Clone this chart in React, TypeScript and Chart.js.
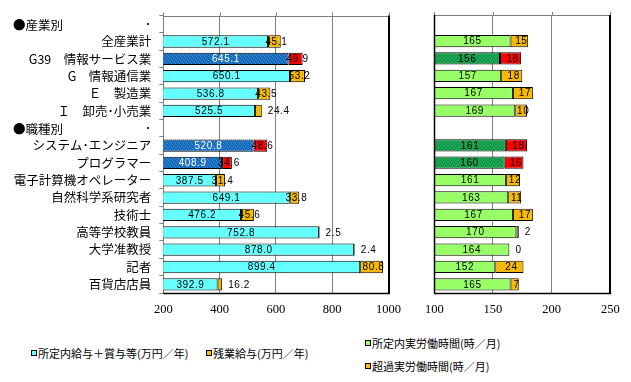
import React, { useEffect, useRef } from "react";
import { Chart, registerables } from "chart.js";

Chart.register(...registerables);

// ---------- data ----------
const categories = [
  "●産業別",
  "全産業計",
  "G39　情報サービス業",
  "G　情報通信業",
  "Ｅ　製造業",
  "Ｉ　卸売･小売業",
  "●職種別",
  "システム･エンジニア",
  "プログラマー",
  "電子計算機オペレーター",
  "自然科学系研究者",
  "技術士",
  "高等学校教員",
  "大学准教授",
  "記者",
  "百貨店店員",
];
const headerRows = [0, 6];
const highlightRows = [2, 7, 8];

const salaryBase = [null, 572.1, 645.1, 650.1, 536.8, 525.5, null, 520.8, 408.9, 387.5, 649.1, 476.2, 752.8, 878.0, 899.4, 392.9];
const salaryOvertime = [null, 45.1, 49.9, 53.2, 43.5, 24.4, null, 48.6, 34.6, 31.4, 33.8, 45.6, 2.5, 2.4, 80.8, 16.2];
const hoursBase = [null, 165, 156, 157, 167, 169, null, 161, 160, 161, 163, 167, 170, 164, 152, 165];
const hoursOvertime = [null, 15, 18, 18, 17, 10, null, 18, 16, 12, 11, 17, 2, 0, 24, 7];

const salaryTicks = [200, 400, 600, 800, 1000];
const hoursTicks = [100, 150, 200, 250];

const legendSalary = ["所定内給与＋賞与等(万円／年)", "残業給与(万円／年)"];
const legendHours = ["所定内実労働時間(時／月)", "超過実労働時間(時／月)"];

// ---------- helpers ----------
const JP = '"Noto Sans CJK JP", "Noto Sans", sans-serif';
const NUM = '"Liberation Sans", Arial, sans-serif';

function makePattern(base: string, dot: string) {
  const c = document.createElement("canvas");
  c.width = 4;
  c.height = 4;
  const g = c.getContext("2d")!;
  g.fillStyle = base;
  g.fillRect(0, 0, 4, 4);
  g.fillStyle = dot;
  g.fillRect(0, 0, 1, 1);
  g.fillRect(2, 1, 1, 1);
  g.fillRect(1, 2, 1, 1);
  g.fillRect(3, 3, 1, 1);
  return g.createPattern(c, "repeat")!;
}

function labelPlugin(kind: "left" | "right", decimals: number) {
  return {
    id: "valueLabels_" + kind,
    afterDatasetsDraw(chart: any) {
      const ctx = chart.ctx as CanvasRenderingContext2D;
      const area = chart.chartArea;
      ctx.save();
      ctx.font = "10px " + NUM;
      try {
        (ctx as any).letterSpacing = "0.6px";
      } catch (e) {}
      ctx.textBaseline = "middle";
      chart.data.datasets.forEach((ds: any, di: number) => {
        const meta = chart.getDatasetMeta(di);
        meta.data.forEach((el: any, i: number) => {
          const v = ds.data[i];
          if (v == null) return;
          const start = Math.max(Math.min(el.base, el.x), area.left);
          const end = Math.max(el.base, el.x);
          const txt = Number(v).toFixed(decimals);
          const y = el.y + 0.5;
          if (di === 0) {
            ctx.fillStyle = kind === "left" && highlightRows.includes(i) ? "#ffffff" : "#000000";
            ctx.textAlign = "center";
            ctx.fillText(txt, (start + end) / 2, y);
          } else {
            ctx.fillStyle = "#000000";
            const w = end - start;
            if (w >= 8) {
              ctx.textAlign = "center";
              ctx.fillText(txt, (start + end) / 2 + 2, y);
            } else {
              ctx.textAlign = "left";
              ctx.fillText(txt, end + 6, y);
            }
          }
        });
      });
      ctx.restore();
    },
  };
}

function framePlugin(kind: "left" | "right", ticks: number[]) {
  return {
    id: "frame_" + kind,
    afterDraw(chart: any) {
      const ctx = chart.ctx as CanvasRenderingContext2D;
      const a = chart.chartArea;
      const xs = chart.scales.x;
      ctx.save();
      // top gray line + tick marks
      ctx.strokeStyle = "#808080";
      ctx.lineWidth = 1;
      ctx.beginPath();
      ctx.moveTo(a.left, Math.round(a.top) + 0.5);
      ctx.lineTo(a.right, Math.round(a.top) + 0.5);
      ticks.forEach((t) => {
        const px = Math.round(xs.getPixelForValue(t)) + 0.5;
        ctx.moveTo(px, a.top - 3);
        ctx.lineTo(px, a.top);
      });
      ctx.stroke();
      // right black border
      ctx.strokeStyle = "#000000";
      ctx.lineWidth = 2;
      ctx.beginPath();
      ctx.moveTo(Math.round(a.right), a.top);
      ctx.lineTo(Math.round(a.right), a.bottom + 1);
      ctx.stroke();
      // bottom black border
      ctx.lineWidth = 1.5;
      ctx.beginPath();
      ctx.moveTo(a.left, Math.round(a.bottom) + 0.5);
      ctx.lineTo(a.right + 1, Math.round(a.bottom) + 0.5);
      ctx.stroke();
      if (kind === "right") {
        ctx.lineWidth = 1.5;
        ctx.beginPath();
        ctx.moveTo(Math.round(a.left) + 0.5, a.top);
        ctx.lineTo(Math.round(a.left) + 0.5, a.bottom);
        ctx.stroke();
      }
      if (kind === "left") {
        // section headers
        const ys = chart.scales.y;
        ctx.fillStyle = "#000000";
        ctx.font = "12.5px " + JP;
        ctx.textAlign = "left";
        ctx.textBaseline = "middle";
        headerRows.forEach((r) => {
          ctx.fillText(categories[r], 13, ys.getPixelForValue(r) + 1);
        });
      }
      ctx.restore();
    },
  };
}

function ChartPanel(props: {
  kind: "left" | "right";
  width: number;
  height: number;
  left: number;
}) {
  const ref = useRef<HTMLCanvasElement | null>(null);
  useEffect(() => {
    const canvas = ref.current!;
    const isLeft = props.kind === "left";
    const cyan = "#66FFFF";
    const lightGreen = "#99FF66";
    const red = "#FF0000";
    const orange = makePattern("#FFC000", "#E6A200");
    const darkBlue = makePattern("#1668B8", "#3A8ED8");
    const darkGreen = makePattern("#109848", "#30B860");

    const base = isLeft ? salaryBase : hoursBase;
    const over = isLeft ? salaryOvertime : hoursOvertime;
    const ticks = isLeft ? salaryTicks : hoursTicks;

    const baseColors = categories.map((_, i) =>
      highlightRows.includes(i) ? (isLeft ? darkBlue : darkGreen) : isLeft ? cyan : lightGreen
    );
    const overColors = categories.map((_, i) => (highlightRows.includes(i) ? red : orange));

    const chart = new Chart(canvas, {
      type: "bar",
      data: {
        labels: categories,
        datasets: [
          {
            data: base as any,
            backgroundColor: baseColors as any,
            borderColor: "#000000",
            borderWidth: 1,
            borderSkipped: false,
            barPercentage: 0.71,
            categoryPercentage: 1,
          },
          {
            data: over as any,
            backgroundColor: overColors as any,
            borderColor: "#000000",
            borderWidth: 1,
            borderSkipped: false,
            barPercentage: 0.71,
            categoryPercentage: 1,
          },
        ],
      },
      options: {
        indexAxis: "y",
        responsive: false,
        animation: false,
        devicePixelRatio: 1,
        layout: {
          padding: isLeft
            ? { top: 15, right: 14, left: 0, bottom: 0 }
            : { top: 15, right: 20.7, left: 0, bottom: 0 },
        },
        plugins: {
          legend: { display: false },
          tooltip: { enabled: false },
        },
        scales: {
          x: {
            stacked: true,
            min: ticks[0],
            max: ticks[ticks.length - 1],
            afterBuildTicks: (scale: any) => {
              scale.ticks = ticks.map((v) => ({ value: v }));
            },
            afterFit: (scale: any) => {
              scale.height = 37;
            },
            grid: {
              color: "#808080",
              drawTicks: false,
            },
            border: { display: false },
            ticks: {
              color: "#000000",
              padding: 9,
              font: { family: '"Liberation Serif", serif', size: 12.5 },
              maxRotation: 0,
              callback: (v: any) => String(v),
            },
          },
          y: {
            stacked: true,
            afterFit: (scale: any) => {
              scale.width = isLeft ? 163.3 : 24.3;
            },
            grid: {
              display: isLeft,
              drawOnChartArea: false,
              drawTicks: true,
              tickLength: 4,
              color: "#808080",
              offset: true,
            },
            border: { display: true, color: isLeft ? "#808080" : "#000000" },
            ticks: {
              display: isLeft,
              color: "#000000",
              padding: 8,
              autoSkip: false,
              font: { family: JP, size: 12.5 },
              callback: (_v: any, idx: number) => (headerRows.includes(idx) ? "･" : categories[idx]),
            },
          },
        },
      },
      plugins: [labelPlugin(props.kind, isLeft ? 1 : 0), framePlugin(props.kind, ticks)],
    } as any);
    return () => chart.destroy();
  }, []);
  return (
    <div style={{ position: "absolute", left: props.left, top: 0, width: props.width, height: props.height }}>
      <canvas ref={ref} width={props.width} height={props.height} style={{ width: props.width, height: props.height, display: "block" }} />
    </div>
  );
}

function LegendItem(props: { x: number; y: number; color: string; text: string }) {
  return (
    <div
      style={{
        position: "absolute",
        left: props.x,
        top: props.y - 7,
        height: 14,
        display: "flex",
        alignItems: "center",
        whiteSpace: "nowrap",
        fontFamily: JP,
        fontSize: 11,
        lineHeight: "14px",
        color: "#000",
      }}
    >
      <span
        style={{
          display: "inline-block",
          width: 4,
          height: 4,
          border: "1px solid #000",
          background: props.color,
          marginRight: 1,
        }}
      />
      <span>{props.text}</span>
    </div>
  );
}

export default function App() {
  return (
    <div style={{ position: "fixed", left: 0, top: 0, width: 631, height: 382, background: "#ffffff", overflow: "hidden" }}>
      <ChartPanel kind="left" left={0} width={410} height={330} />
      <ChartPanel kind="right" left={410} width={221} height={330} />
      <LegendItem x={31} y={353} color="#66FFFF" text={legendSalary[0]} />
      <LegendItem x={206} y={353} color="#FFC000" text={legendSalary[1]} />
      <LegendItem x={365} y={343} color="#99FF66" text={legendHours[0]} />
      <LegendItem x={365} y={366} color="#FFC000" text={legendHours[1]} />
    </div>
  );
}
